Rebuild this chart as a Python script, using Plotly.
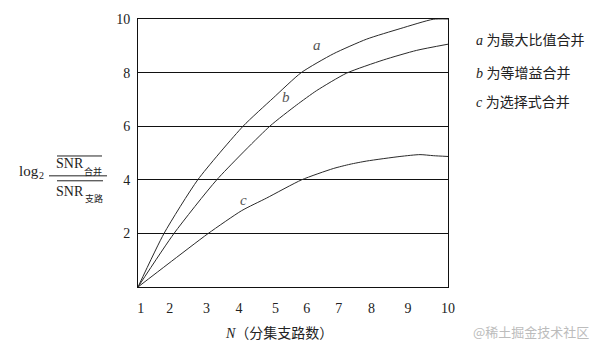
import plotly.graph_objects as go

# ---- data (axis units: x ~ N position, y ~ log2 ratio) ----
tick_pos = [1.08, 1.92, 2.99, 3.93, 4.99, 5.90, 6.83, 7.78, 8.84, 10.0]
tick_text = ["1", "2", "3", "4", "5", "6", "7", "8", "9", "10"]
y_ticks = [2, 4, 6, 8, 10]

a_x = [1.0, 1.756, 2.735, 4.051, 4.923, 5.74, 6.67, 7.64, 8.61, 9.57, 10.0]
a_y = [0.0, 2.0, 4.0, 6.0, 7.05, 8.0, 8.70, 9.25, 9.64, 9.99, 10.0]

b_x = [1.0, 2.046, 3.287, 4.827, 5.603, 6.188, 7.056, 8.121, 9.090, 10.0]
b_y = [0.0, 2.0, 4.0, 6.0, 6.79, 7.33, 7.98, 8.47, 8.83, 9.06]

c_x = [1.0, 1.872, 3.041, 4.011, 4.736, 5.752, 6.67, 7.155, 7.64, 8.605, 9.187, 9.573, 10.0]
c_y = [0.0, 0.86, 2.0, 2.85, 3.32, 4.0, 4.42, 4.58, 4.70, 4.87, 4.94, 4.90, 4.87]

curve_labels = ["a", "b", "c"]
label_x = [6.20, 5.31, 4.05]
label_y = [9.03, 7.09, 3.23]

legend_lines = ["<i>a</i> 为最大比值合并", "<i>b</i> 为等增益合并", "<i>c</i> 为选择式合并"]

# ---- layout geometry ----
W, H = 598, 349
L, R, T, B = 138, 150, 17, 62
PW, PH = W - L - R, H - T - B


def fx(px):
    return (px - L) / PW


def fy(py):
    return (H - B - py) / PH


SERIF = "Liberation Serif, Noto Sans CJK SC"
CJK = "Liberation Serif, Noto Sans CJK SC"
LINE = "#2a2a2a"

fig = go.Figure()
for xs, ys in [(a_x, a_y), (b_x, b_y), (c_x, c_y)]:
    fig.add_trace(go.Scatter(x=xs, y=ys, mode="lines",
                             line=dict(color=LINE, width=1, shape="spline", smoothing=0.6),
                             showlegend=False, hoverinfo="skip"))

annotations = []
for t, x, y in zip(curve_labels, label_x, label_y):
    annotations.append(dict(x=x, y=y, xref="x", yref="y", text=f"<i>{t}</i>", showarrow=False,
                            font=dict(family=SERIF, size=15, color="#555")))

for i, t in enumerate(legend_lines):
    annotations.append(dict(x=fx(474), y=fy([39, 71, 101][i]), xref="paper", yref="paper",
                            text=t, showarrow=False, xanchor="left", yanchor="middle",
                            font=dict(family=CJK, size=14, color="#222")))

# x-axis title
annotations.append(dict(x=fx(279), y=fy(333), xref="paper", yref="paper",
                        text="<i>N</i>（分集支路数）", showarrow=False, xanchor="center", yanchor="middle",
                        font=dict(family=CJK, size=14, color="#222")))

# y-axis label: log2 (SNR合并 / SNR支路)
ylab = [
    ("log", 29, 170, 15),
    ("2", 41.5, 175, 10),
    ("SNR", 70, 163, 14),
    ("合并", 93, 171, 9),
    ("SNR", 70, 190.5, 14),
    ("支路", 94, 198, 9),
]
for t, px, py, s in ylab:
    annotations.append(dict(x=fx(px), y=fy(py), xref="paper", yref="paper", text=t,
                            showarrow=False, xanchor="center", yanchor="middle",
                            font=dict(family=CJK, size=s, color="#222")))

# watermark
annotations.append(dict(x=fx(531), y=fy(332), xref="paper", yref="paper",
                        text="@稀土掘金技术社区", showarrow=False, xanchor="center", yanchor="middle",
                        font=dict(family="Noto Sans CJK SC", size=13, color="#bcbcbc")))

shapes = []
for x0, x1, yy in [(49, 107, 175), (57, 102, 155), (57, 103, 180)]:
    shapes.append(dict(type="line", xref="paper", yref="paper",
                       x0=fx(x0), x1=fx(x1), y0=fy(yy), y1=fy(yy),
                       line=dict(color="#222", width=1)))

fig.update_layout(
    width=W, height=H,
    margin=dict(l=L, r=R, t=T, b=B),
    paper_bgcolor="white", plot_bgcolor="white",
    annotations=annotations, shapes=shapes,
    xaxis=dict(range=[1, 10], tickvals=tick_pos, ticktext=tick_text, showgrid=False,
               zeroline=False, showline=True, mirror=True, linecolor="#111", linewidth=1,
               ticks="", ticklabelstandoff=8,
               tickfont=dict(family=SERIF, size=14, color="#222")),
    yaxis=dict(range=[0, 10], tickvals=y_ticks, ticktext=[str(v) for v in y_ticks],
               showgrid=True, gridcolor="#111", gridwidth=1,
               zeroline=False, showline=True, mirror=True, linecolor="#111", linewidth=1,
               ticks="", ticklabelstandoff=4,
               tickfont=dict(family=SERIF, size=14, color="#222")),
)

fig.write_html("out.html")
